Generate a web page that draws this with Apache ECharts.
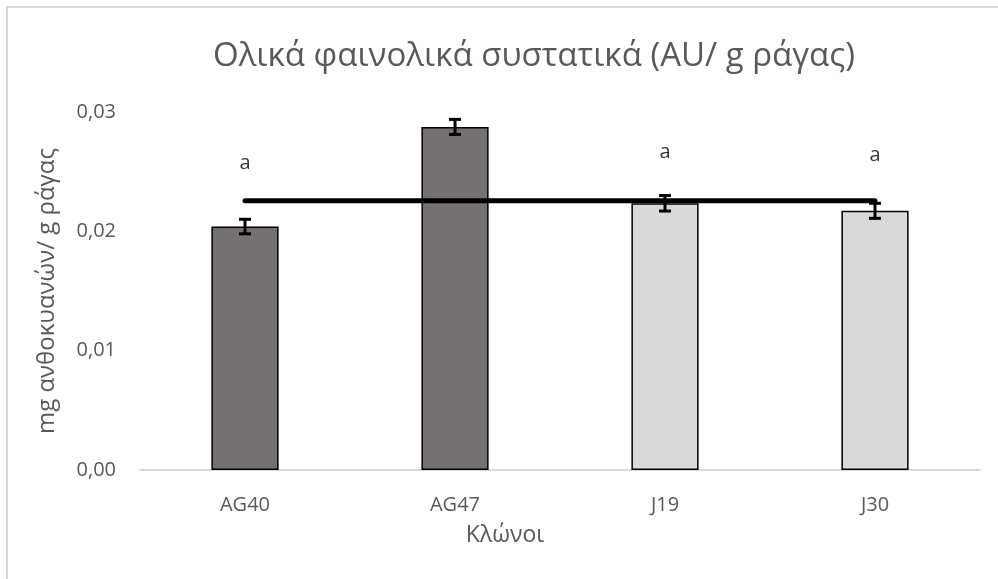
<!DOCTYPE html>
<html>
<head>
<meta charset="utf-8">
<script src="https://cdn.jsdelivr.net/npm/echarts@6/dist/echarts.min.js"></script>
<style>
  html, body { margin: 0; padding: 0; background: #fff; }
  #chart { width: 998px; height: 579px; }
</style>
</head>
<body>
<div id="chart"></div>
<script>
// Clones and their total phenolic content
const clones = ['AG40', 'AG47', 'J19', 'J30'];
const meanValues = [0.0204, 0.02875, 0.02235, 0.02172];
const errValues = [0.00061, 0.00063, 0.00065, 0.00063];
const barColors = ['#767171', '#767171', '#d9d9d9', '#d9d9d9'];
// Horizontal reference line across the clones
const refLine = [0.02256, 0.02256, 0.02256, 0.02256];
// Significance letters and the height they sit at
const sigLetters = ['a', 'b', 'a', 'a'];
const sigHeights = [0.02573, 0.0316, 0.02665, 0.0264];
const yTicks = [0, 0.01, 0.02, 0.03];

const textColor = '#595959';
const fontFamily = 'Open Sans, sans-serif';

const chart = echarts.init(document.getElementById('chart'), null, { renderer: 'canvas' });

const option = {
  backgroundColor: '#ffffff',
  animation: false,
  title: {
    text: 'Ολικά φαινολικά συστατικά (AU/ g ράγας)',
    left: 208,
    top: 35,
    textStyle: { color: textColor, fontSize: 33, fontWeight: 'normal', fontFamily: fontFamily }
  },
  graphic: [
    { type: 'polyline', silent: true, shape: { points: [[7, 579], [7, 7], [998, 7]] },
      style: { stroke: '#d9d9d9', lineWidth: 2, fill: null } }
  ],
  grid: { left: 140, right: 18, top: 112, bottom: 109 },
  xAxis: {
    type: 'category',
    data: clones,
    name: 'Κλώνοι',
    nameLocation: 'middle',
    nameGap: 54,
    // right padding moves the axis title left of the plot centre
    nameTextStyle: { color: textColor, fontSize: 23, fontFamily: fontFamily, padding: [0, 110, 0, 0] },
    axisLine: { lineStyle: { color: '#d9d9d9', width: 2 } },
    axisTick: { show: false },
    axisLabel: { color: textColor, fontSize: 20, fontFamily: fontFamily, margin: 25 }
  },
  yAxis: {
    type: 'value',
    min: yTicks[0],
    max: yTicks[yTicks.length - 1],
    interval: 0.01,
    name: 'mg ανθοκυανών/ g ράγας',
    nameLocation: 'middle',
    nameGap: 81,
    nameTextStyle: { color: textColor, fontSize: 24, fontFamily: fontFamily },
    axisLine: { show: false },
    axisTick: { show: false },
    splitLine: { show: false },
    axisLabel: {
      color: textColor, fontSize: 20, fontFamily: fontFamily, margin: 24,
      formatter: v => v.toFixed(2).replace('.', ',')
    }
  },
  series: [
    {
      type: 'bar',
      data: meanValues.map((v, i) => ({ value: v, itemStyle: { color: barColors[i] } })),
      barWidth: '32%',
      itemStyle: { borderColor: '#000000', borderWidth: 1.5 },
      z: 2
    },
    {
      // I-beam error bars
      type: 'custom',
      data: meanValues.map((v, i) => [i, v - errValues[i], v + errValues[i]]),
      renderItem: (params, api) => {
        const lo = api.coord([api.value(0), api.value(1)]);
        const hi = api.coord([api.value(0), api.value(2)]);
        const half = 6;
        const st = { stroke: '#000', lineWidth: 3 };
        return {
          type: 'group',
          children: [
            { type: 'line', shape: { x1: lo[0], y1: lo[1], x2: hi[0], y2: hi[1] }, style: st },
            { type: 'line', shape: { x1: lo[0] - half, y1: lo[1], x2: lo[0] + half, y2: lo[1] }, style: st },
            { type: 'line', shape: { x1: hi[0] - half, y1: hi[1], x2: hi[0] + half, y2: hi[1] }, style: st }
          ]
        };
      },
      z: 4
    },
    {
      type: 'line',
      data: refLine,
      symbol: 'none',
      lineStyle: { color: '#000000', width: 5, cap: 'round', join: 'round' },
      z: 5
    },
    {
      type: 'scatter',
      data: sigHeights.map((h, i) => ({ value: [i, h], letter: sigLetters[i] })),
      symbolSize: 0,
      label: {
        show: true,
        position: 'inside',
        formatter: p => p.data.letter,
        color: '#000000',
        fontSize: 20,
        fontFamily: fontFamily
      },
      z: 6
    }
  ]
};

chart.setOption(option);
</script>
</body>
</html>
